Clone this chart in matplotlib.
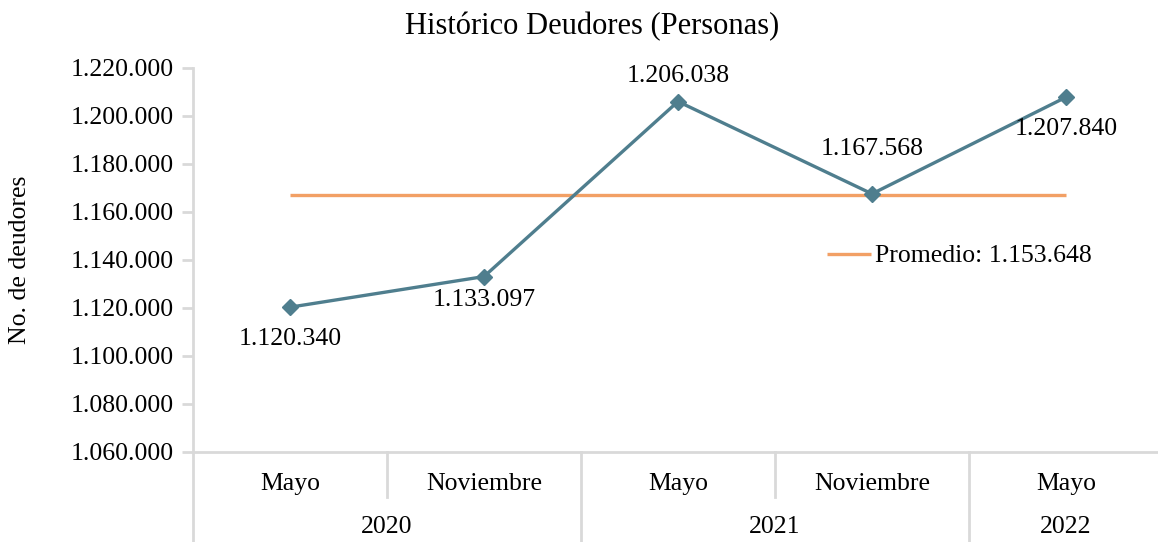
import matplotlib
matplotlib.use('Agg')
import matplotlib.pyplot as plt

# datos
meses = ['Mayo', 'Noviembre', 'Mayo', 'Noviembre', 'Mayo']
anios = ['2020', '2021', '2022']
anio_grupos = [(0, 1), (2, 3), (4, 4)]  # indice inicial y final de cada año
deudores = [1120340, 1133097, 1206038, 1167568, 1207840]
etiquetas = ['1.120.340', '1.133.097', '1.206.038', '1.167.568', '1.207.840']
promedio = 1166977
promedio_txt = 'Promedio: 1.153.648'
yticks = [1060000, 1080000, 1100000, 1120000, 1140000, 1160000, 1180000, 1200000, 1220000]

plt.rcParams['font.family'] = ['Liberation Serif', 'DejaVu Serif']

W, H = 1158, 542
fig = plt.figure(figsize=(W / 100, H / 100), dpi=100)
ax = fig.add_axes([193 / W, 90 / H, 970 / W, 384 / H])

gris = '#D9D9D9'
azul = '#4F7E8E'
naranja = '#F2A065'
fs = 18.5

x = list(range(len(deudores)))
linea_prom, = ax.plot(x, [promedio] * len(x), color=naranja, lw=2.4, solid_capstyle='butt')
ax.plot(x, deudores, color=azul, lw=2.4, marker='D', markersize=8, zorder=3)

# etiquetas de datos (desplazamiento en pixeles)
offsets = [(0, -32), (0, -23), (0, 26), (0, 45), (0, -32)]
for i, (v, t) in enumerate(zip(deudores, etiquetas)):
    ax.annotate(t, (i, v), xytext=offsets[i], textcoords='offset pixels',
                ha='center', va='center', fontsize=fs)

ax.set_xlim(-0.5, len(x) - 0.5)
ax.set_ylim(1060000, 1220000)
ax.set_yticks(yticks)
ax.set_yticklabels([f'{v:,}'.replace(',', '.') for v in yticks], fontsize=fs)
ax.tick_params(axis='y', color=gris, width=2, length=8, pad=6)
ax.set_xticks([])

for s in ['top', 'right']:
    ax.spines[s].set_visible(False)
for s in ['left', 'bottom']:
    ax.spines[s].set_color(gris)
    ax.spines[s].set_linewidth(2)

# ejes de categorias de dos niveles
tr = ax.get_xaxis_transform()
for i, m in enumerate(meses):
    ax.text(i, -32 / 384, m, transform=tr, ha='center', va='center', fontsize=fs)
for a, (i0, i1) in zip(anios, anio_grupos):
    ax.text((i0 + i1) / 2, -75 / 384, a, transform=tr, ha='center', va='center', fontsize=fs)
    ax.plot([i0 - 0.5, i0 - 0.5], [0, -90 / 384], transform=tr, color=gris, lw=2, clip_on=False)
    for k in range(i0 + 1, i1 + 1):
        ax.plot([k - 0.5, k - 0.5], [0, -45 / 384], transform=tr, color=gris, lw=2, clip_on=False)

ax.set_ylabel('No. de deudores', fontsize=fs)
ax.yaxis.set_label_coords(-(193 - 31) / 970, 0.5)
fig.text(592 / W, 1 - 27 / H, 'Histórico Deudores (Personas)', fontsize=22,
         ha='center', va='center')

# leyenda
ax.legend(handles=[linea_prom], labels=[promedio_txt], loc='center left',
          bbox_to_anchor=((827 - 193) / 970, (452 - 256) / 384),
          frameon=False, fontsize=fs, handlelength=1.7, handletextpad=0.15,
          borderaxespad=0, borderpad=0)

fig.savefig('out.png', dpi=100)
